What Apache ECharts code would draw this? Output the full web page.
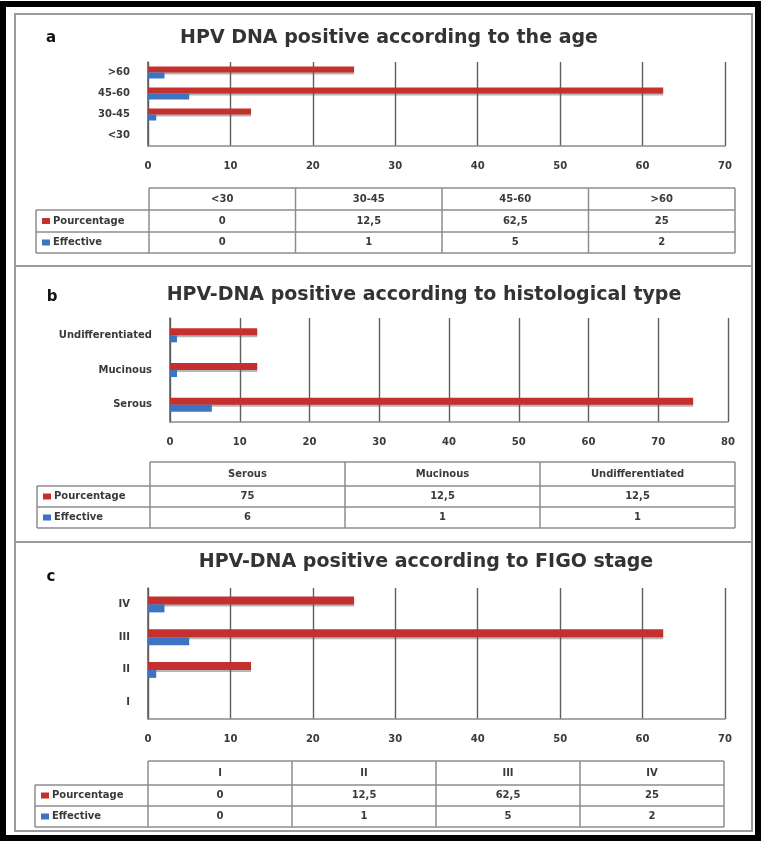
<!DOCTYPE html>
<html>
<head>
<meta charset="utf-8">
<script src="https://cdn.jsdelivr.net/npm/echarts@6/dist/echarts.min.js"></script>
<style>html,body{margin:0;padding:0;background:#fff;}#chart{width:766px;height:843px;}</style>
</head>
<body>
<div id="chart"></div>
<script>
// ---- data ----
const catsA = ['<30', '30-45', '45-60', '>60'];
const pctA = [0, 12.5, 62.5, 25];
const effA = [0, 1, 5, 2];
const catsB = ['Serous', 'Mucinous', 'Undifferentiated'];
const pctB = [75, 12.5, 12.5];
const effB = [6, 1, 1];
const catsC = ['I', 'II', 'III', 'IV'];
const pctC = [0, 12.5, 62.5, 25];
const effC = [0, 1, 5, 2];
const seriesNames = ['Pourcentage', 'Effective'];
const titles = ['HPV DNA positive according to the age', 'HPV-DNA positive according to histological type', 'HPV-DNA positive according to FIGO stage'];
const panelLetters = ['a', 'b', 'c'];
const axisMax = [70, 80, 70];

// ---- style / layout ----
const RED = '#C3302E', BLUE = '#3C74C2';
const FONT = 'DejaVu Sans';
const TXT = '#3a3a3a';
const panels = [
  {cats: catsA, pct: pctA, eff: effA, grid: {left: 148, top: 62, width: 577, height: 84}, bw: 6,
   title: {x: 384, y: 35}, letter: {x: 51, y: 38},
   table: {x0: 36, xl: 149, x1: 735, rows: [188, 210, 232, 253]}},
  {cats: catsB, pct: pctB, eff: effB, grid: {left: 170, top: 318, width: 558, height: 104}, bw: 7,
   title: {x: 419, y: 292}, letter: {x: 52, y: 297},
   table: {x0: 37, xl: 150, x1: 735, rows: [462, 486, 507, 528]}},
  {cats: catsC, pct: pctC, eff: effC, grid: {left: 148, top: 588, width: 577, height: 131}, bw: 8,
   title: {x: 421, y: 559}, letter: {x: 51, y: 577},
   table: {x0: 35, xl: 148, x1: 724, rows: [761, 785, 806, 827]}}
];

const fmt = v => String(v).replace('.', ',');

const grids = [], xAxes = [], yAxes = [], series = [], titleComps = [], graphics = [];

// frames
graphics.push({type: 'rect', shape: {x: 15, y: 14, width: 737, height: 817}, style: {fill: 'none', stroke: '#9a9a9a', lineWidth: 2}, z: 1});
graphics.push({type: 'line', shape: {x1: 15, y1: 266, x2: 752, y2: 266}, style: {stroke: '#9a9a9a', lineWidth: 2}});
graphics.push({type: 'line', shape: {x1: 15, y1: 542, x2: 752, y2: 542}, style: {stroke: '#9a9a9a', lineWidth: 2}});
graphics.push({type: 'rect', shape: {x: 3, y: 4, width: 755, height: 834}, style: {fill: 'none', stroke: '#000', lineWidth: 6}, z: 2});

panels.forEach((p, i) => {
  grids.push(Object.assign({containLabel: false}, p.grid));
  xAxes.push({
    type: 'value', gridIndex: i, min: 0, max: axisMax[i], interval: 10,
    axisLine: {show: true, lineStyle: {color: '#8a8a8a', width: 1.5}},
    axisTick: {show: false},
    splitLine: {show: true, lineStyle: {color: '#5e5e5e', width: 1.4}},
    axisLabel: {color: TXT, fontFamily: FONT, fontWeight: 'bold', fontSize: 10, margin: 15}
  });
  yAxes.push({
    type: 'category', gridIndex: i, data: p.cats,
    axisLine: {show: true, lineStyle: {color: '#5e5e5e', width: 1.5}},
    axisTick: {show: false},
    axisLabel: {color: TXT, fontFamily: FONT, fontWeight: 'bold', fontSize: 10, margin: 18}
  });
  series.push({
    name: seriesNames[0], type: 'bar', xAxisIndex: i, yAxisIndex: i, data: p.pct,
    barWidth: p.bw, barGap: '0%', itemStyle: {color: RED, shadowColor: 'rgba(90,90,90,0.45)', shadowOffsetY: 2, shadowBlur: 0}
  });
  series.push({
    name: seriesNames[1], type: 'bar', xAxisIndex: i, yAxisIndex: i, data: p.eff,
    barWidth: p.bw, barGap: '0%', itemStyle: {color: BLUE}
  });
  titleComps.push({
    text: titles[i], left: p.title.x, top: p.title.y - 11, textAlign: 'center',
    textStyle: {fontFamily: FONT, fontWeight: 'bold', fontSize: 19, color: '#333'}
  });
  graphics.push({type: 'text', x: p.letter.x, y: p.letter.y,
    style: {text: panelLetters[i], fontFamily: FONT, fontWeight: 'bold', fontSize: 15, fill: '#111', textAlign: 'center', textVerticalAlign: 'middle'}});

  // data table
  const t = p.table, r = t.rows, n = p.cats.length;
  const cw = (t.x1 - t.xl) / n;
  const ls = {stroke: '#8c8c8c', lineWidth: 1.5};
  graphics.push({type: 'line', shape: {x1: t.xl, y1: r[0], x2: t.x1, y2: r[0]}, style: ls});
  for (let k = 1; k < 4; k++) graphics.push({type: 'line', shape: {x1: t.x0, y1: r[k], x2: t.x1, y2: r[k]}, style: ls});
  graphics.push({type: 'line', shape: {x1: t.x0, y1: r[1], x2: t.x0, y2: r[3]}, style: ls});
  for (let k = 0; k <= n; k++) graphics.push({type: 'line', shape: {x1: t.xl + k * cw, y1: r[0], x2: t.xl + k * cw, y2: r[3]}, style: ls});
  const cellTxt = (txt, x, y) => ({type: 'text', x: x, y: y,
    style: {text: txt, fontFamily: FONT, fontWeight: 'bold', fontSize: 10, fill: TXT, textAlign: 'center', textVerticalAlign: 'middle'}});
  p.cats.forEach((c, k) => {
    const cx = t.xl + (k + 0.5) * cw;
    graphics.push(cellTxt(c, cx, (r[0] + r[1]) / 2));
    graphics.push(cellTxt(fmt(p.pct[k]), cx, (r[1] + r[2]) / 2));
    graphics.push(cellTxt(fmt(p.eff[k]), cx, (r[2] + r[3]) / 2));
  });
  [[RED, seriesNames[0], (r[1] + r[2]) / 2], [BLUE, seriesNames[1], (r[2] + r[3]) / 2]].forEach(([col, name, y]) => {
    graphics.push({type: 'rect', shape: {x: t.x0 + 6, y: y - 3, width: 8, height: 6}, style: {fill: col}});
    graphics.push({type: 'text', x: t.x0 + 17, y: y,
      style: {text: name, fontFamily: FONT, fontWeight: 'bold', fontSize: 10, fill: TXT, textAlign: 'left', textVerticalAlign: 'middle'}});
  });
});

const chart = echarts.init(document.getElementById('chart'), null, {renderer: 'canvas'});
chart.setOption({
  backgroundColor: '#fff',
  animation: false,
  title: titleComps,
  grid: grids,
  xAxis: xAxes,
  yAxis: yAxes,
  series: series,
  graphic: {elements: graphics}
});
</script>
</body>
</html>
